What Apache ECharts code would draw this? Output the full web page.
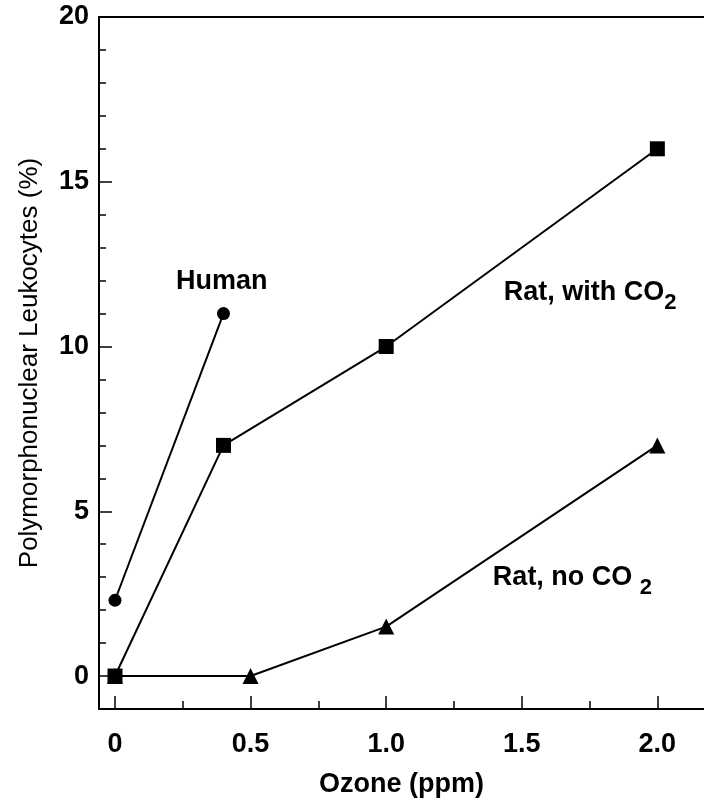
<!DOCTYPE html>
<html>
<head>
<meta charset="utf-8">
<script src="https://cdn.jsdelivr.net/npm/echarts@6/dist/echarts.min.js"></script>
<style>
  html, body { margin: 0; padding: 0; background: #fff; }
  #chart { width: 704px; height: 804px; }
</style>
</head>
<body>
<div id="chart"></div>
<script>
// Ozone exposure (ppm) vs. polymorphonuclear leukocytes in lavage fluid (%)
var humanX = [0, 0.4];
var humanY = [2.3, 11];

var ratCO2X = [0, 0.4, 1.0, 2.0];
var ratCO2Y = [0, 7, 10, 16];

var ratNoCO2X = [0, 0.5, 1.0, 2.0];
var ratNoCO2Y = [0, 0, 1.5, 7];

var xMajorTicks = [0, 0.5, 1.0, 1.5, 2.0];
var xMinorTicks = [0.25, 0.75, 1.25, 1.75];
var yMajorTicks = [0, 5, 10, 15, 20];
var yMinorTicks = [1, 2, 3, 4, 6, 7, 8, 9, 11, 12, 13, 14, 16, 17, 18, 19];

var FONT = '"Liberation Sans", Arial, Helvetica, sans-serif';
var INK = '#000';

function pairs(xs, ys) {
  return xs.map(function (x, i) { return [x, ys[i]]; });
}

function seriesLabel(coord, text, rich) {
  return {
    symbol: 'circle',
    symbolSize: 1,
    itemStyle: { color: 'rgba(0,0,0,0)' },
    silent: true,
    data: [{
      coord: coord,
      label: {
        show: true,
        position: 'inside',
        formatter: text,
        color: INK,
        fontFamily: FONT,
        fontWeight: 'bold',
        fontSize: 27,
        rich: rich || {}
      }
    }]
  };
}

var subRich = {
  n: { fontFamily: FONT, fontWeight: 'bold', fontSize: 27, lineHeight: 26, verticalAlign: 'top', color: INK },
  s: { fontFamily: FONT, fontWeight: 'bold', fontSize: 22, lineHeight: 48, verticalAlign: 'middle', color: INK }
};

var X_MIN = -0.059, X_MAX = 2.172;
var Y_MIN = -1, Y_MAX = 20;

var chart = echarts.init(document.getElementById('chart'), null, { renderer: 'canvas' });

chart.setOption({
  animation: false,
  backgroundColor: '#fff',
  grid: { left: 99, right: 0, top: 17, bottom: 95, containLabel: false },
  xAxis: [
    {
      type: 'value', position: 'bottom', min: X_MIN, max: X_MAX,
      name: 'Ozone (ppm)', nameLocation: 'middle', nameGap: 62,
      nameTextStyle: { fontFamily: FONT, fontWeight: 'bold', fontSize: 27, color: INK },
      axisLine: { show: true, onZero: false, lineStyle: { color: INK, width: 2 } },
      axisTick: { show: true, inside: true, length: 13, customValues: xMajorTicks, lineStyle: { color: INK, width: 1.5 } },
      axisLabel: {
        show: true, margin: 22, customValues: xMajorTicks,
        fontFamily: FONT, fontWeight: 'bold', fontSize: 27, color: INK,
        formatter: function (v) { return v === 0 ? '0' : v.toFixed(1); }
      },
      splitLine: { show: false }
    },
    {
      type: 'value', position: 'bottom', min: X_MIN, max: X_MAX,
      axisLine: { show: false, onZero: false },
      axisTick: { show: true, inside: true, length: 8, customValues: xMinorTicks, lineStyle: { color: INK, width: 1.5 } },
      axisLabel: { show: false },
      splitLine: { show: false }
    },
    {
      type: 'value', position: 'top', min: X_MIN, max: X_MAX,
      axisLine: { show: true, onZero: false, lineStyle: { color: INK, width: 2 } },
      axisTick: { show: false },
      axisLabel: { show: false },
      splitLine: { show: false }
    }
  ],
  yAxis: [
    {
      type: 'value', position: 'left', min: Y_MIN, max: Y_MAX,
      name: 'Polymorphonuclear Leukocytes (%)', nameLocation: 'middle', nameGap: 56, nameRotate: 90,
      nameTextStyle: { fontFamily: FONT, fontSize: 26, color: INK },
      axisLine: { show: true, onZero: false, lineStyle: { color: INK, width: 2 } },
      axisTick: { show: true, inside: true, length: 13, customValues: yMajorTicks, lineStyle: { color: INK, width: 1.5 } },
      axisLabel: {
        show: true, margin: 10, customValues: yMajorTicks, padding: [6, 0, 0, 0],
        fontFamily: FONT, fontWeight: 'bold', fontSize: 27, color: INK
      },
      splitLine: { show: false }
    },
    {
      type: 'value', position: 'left', min: Y_MIN, max: Y_MAX,
      axisLine: { show: false, onZero: false },
      axisTick: { show: true, inside: true, length: 7, customValues: yMinorTicks, lineStyle: { color: INK, width: 1.5 } },
      axisLabel: { show: false },
      splitLine: { show: false }
    }
  ],
  series: [
    {
      name: 'Rat, no CO2', type: 'line', xAxisIndex: 0, yAxisIndex: 0, z: 2,
      data: pairs(ratNoCO2X, ratNoCO2Y),
      symbol: 'triangle', symbolSize: 16, showAllSymbol: true,
      lineStyle: { color: INK, width: 2 }, itemStyle: { color: INK, borderWidth: 0 },
      markPoint: seriesLabel([1.687, 2.67], '{n|Rat, no CO }{s|2}', subRich)
    },
    {
      name: 'Rat, with CO2', type: 'line', xAxisIndex: 0, yAxisIndex: 0, z: 3,
      data: pairs(ratCO2X, ratCO2Y),
      symbol: 'rect', symbolSize: 15, showAllSymbol: true,
      lineStyle: { color: INK, width: 2 }, itemStyle: { color: INK, borderWidth: 0 },
      markPoint: seriesLabel([1.752, 11.33], '{n|Rat, with CO}{s|2}', subRich)
    },
    {
      name: 'Human', type: 'line', xAxisIndex: 0, yAxisIndex: 0, z: 4,
      data: pairs(humanX, humanY),
      symbol: 'circle', symbolSize: 13, showAllSymbol: true,
      lineStyle: { color: INK, width: 2 }, itemStyle: { color: INK, borderWidth: 0 },
      markPoint: seriesLabel([0.394, 11.97], 'Human')
    }
  ]
});
</script>
</body>
</html>
